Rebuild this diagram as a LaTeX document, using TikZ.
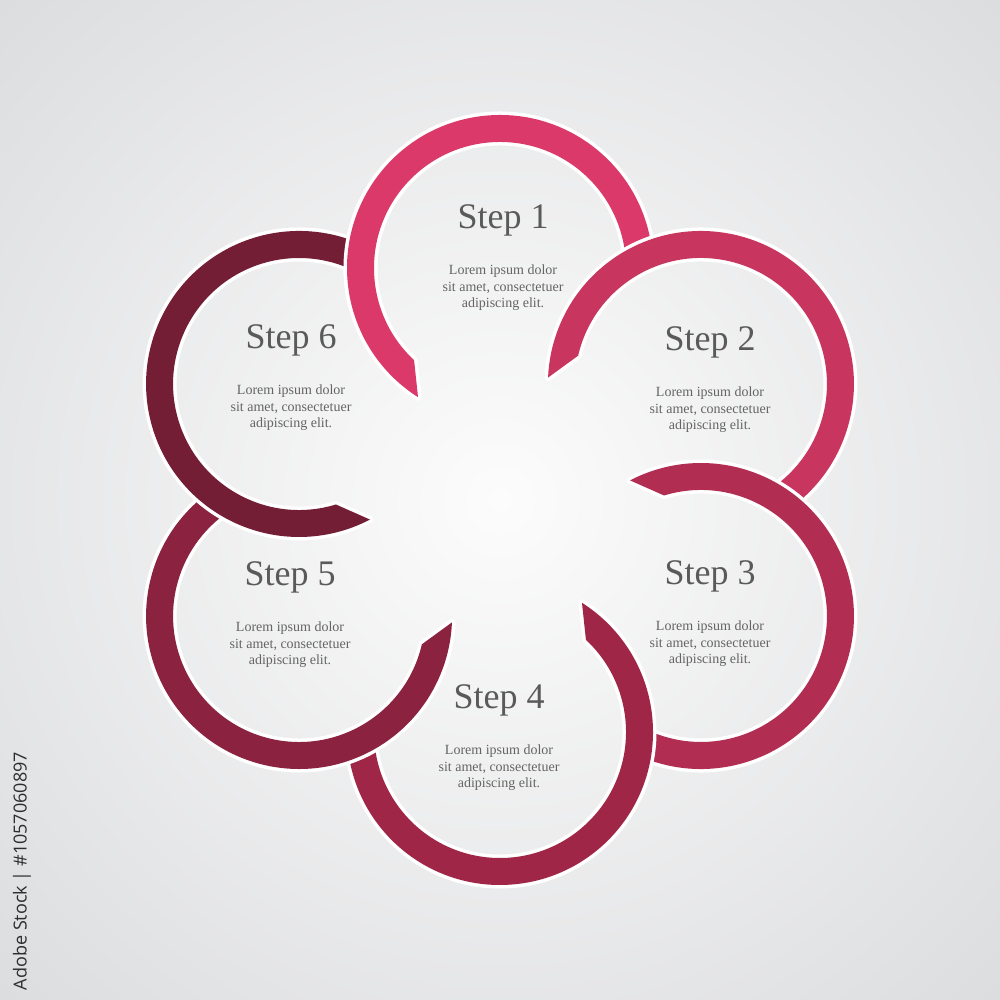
\documentclass[tikz,border=0pt]{standalone}
\usepackage{fontspec}
\setmainfont{Liberation Serif}
\newfontfamily\wmfont{Open Sans}
\usetikzlibrary{calc}
\definecolor{bgin}{RGB}{252,252,252}
\definecolor{bgout}{RGB}{218,219,221}
\definecolor{colA}{RGB}{219,57,105}
\definecolor{colB}{RGB}{200,53,94}
\definecolor{colC}{RGB}{178,45,82}
\definecolor{colD}{RGB}{160,38,72}
\definecolor{colE}{RGB}{139,34,64}
\definecolor{colF}{RGB}{116,30,53}
\definecolor{titlegray}{RGB}{90,90,90}
\definecolor{bodygray}{RGB}{100,100,100}
\definecolor{wmgray}{RGB}{45,45,45}
\newcommand{\drawflowerring}[3]{%
  \draw[white, line width=7pt, line join=round]
    (#1) ++({#2-86}:153) arc[start angle={#2-86}, end angle={#2+147.6}, radius=153]
    -- ($(#1)+({#2+137}:126)$) arc[start angle={#2+137}, end angle={#2-86}, radius=126] -- cycle;
  \fill[#3]
    (#1) ++({#2-86}:153) arc[start angle={#2-86}, end angle={#2+147.6}, radius=153]
    -- ($(#1)+({#2+137}:126)$) arc[start angle={#2+137}, end angle={#2-86}, radius=126] -- cycle;
}
\tikzset{
  steptitle/.style={anchor=base, inner sep=0pt, text=titlegray, font=\fontsize{36}{40}\selectfont},
  stepbody/.style={anchor=base, inner sep=0pt, text=bodygray, font=\fontsize{14}{16}\selectfont},
}
\newcommand{\steptext}[4]{% name, x, baseline y (image), number
  \node[steptitle] (#1t) at (#2, {1000-#3}) {Step #4};
  \node[stepbody] (#1a) at (#2, {1000-#3-46}) {Lorem ipsum dolor};
  \node[stepbody] (#1b) at (#2, {1000-#3-62.5}) {sit amet, consectetuer};
  \node[stepbody] (#1c) at (#2, {1000-#3-79}) {adipiscing elit.};
}
\begin{document}
\begin{tikzpicture}[x=1pt,y=1pt]
\useasboundingbox (0,0) rectangle (1000,1000);
\begin{scope}
  \clip (0,0) rectangle (1000,1000);
  \shade[inner color=bgin, outer color=bgout] (-250,-250) rectangle (1250,1250);
\end{scope}
\coordinate (F) at (500,500);
\coordinate (c1) at ($(F)+(90:232)$);
\coordinate (c2) at ($(F)+(30:232)$);
\coordinate (c3) at ($(F)+(-30:232)$);
\coordinate (c4) at ($(F)+(-90:232)$);
\coordinate (c5) at ($(F)+(-150:232)$);
\coordinate (c6) at ($(F)+(150:232)$);
\drawflowerring{c1}{90}{colA}
\drawflowerring{c2}{30}{colB}
\drawflowerring{c3}{-30}{colC}
\drawflowerring{c4}{-90}{colD}
\drawflowerring{c5}{-150}{colE}
\drawflowerring{c6}{150}{colF}
\begin{scope}
  \clip (318,690) rectangle (405,810);
  \drawflowerring{c1}{90}{colA}
\end{scope}
\steptext{s1}{503}{229}{1}
\steptext{s2}{710}{351}{2}
\steptext{s3}{710}{585}{3}
\steptext{s4}{499}{709}{4}
\steptext{s5}{290}{586}{5}
\steptext{s6}{291}{349}{6}
\node[rotate=90, inner sep=0pt, text=wmgray, font=\wmfont\fontsize{18}{20}\selectfont] (wm) at (22,129) {Adobe Stock | \#1057060897};
\end{tikzpicture}
\end{document}
